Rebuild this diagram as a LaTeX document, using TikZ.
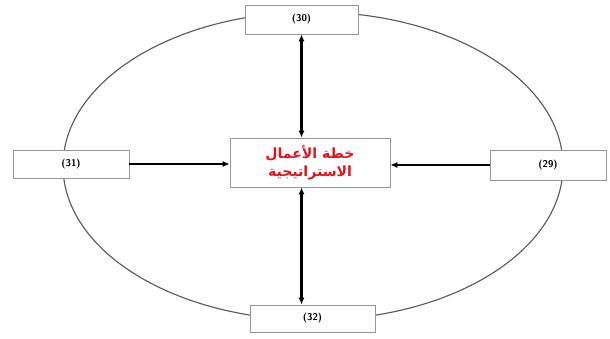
\documentclass[tikz,border=0pt]{standalone}
\usepackage{fontspec}
\usepackage{xcolor}
\usetikzlibrary{arrows.meta}
\newfontfamily\arabicfont[Script=Arabic]{DejaVu Sans}
\TeXXeTstate=1
\definecolor{framegray}{RGB}{150,150,150}
\definecolor{ringgray}{RGB}{90,90,90}
\definecolor{planred}{RGB}{225,20,30}

\begin{document}
\begin{tikzpicture}[x=0.025cm,y=-0.025cm,
  numbox/.style={draw=framegray, fill=white, line width=0.6pt, inner sep=0pt,
    font=\sffamily\bfseries\scriptsize},
  link/.style={line width=1.5pt, -{Latex[length=5pt,width=4.5pt]}},
  biglink/.style={line width=1.6pt, {Latex[length=5pt,width=4.5pt]}-{Latex[length=5pt,width=4.5pt]}}]

% Background
\useasboundingbox[fill=white] (0,0) rectangle (610,338);

% Ring
\draw[ringgray, line width=0.8pt] (313,166) ellipse [x radius=250, y radius=154];

% Boxes
\node[numbox, minimum width=113*0.025cm, minimum height=29*0.025cm] (n30) at (301.5,19.5) {(30)};
\node[numbox, minimum width=116*0.025cm, minimum height=28*0.025cm] (n31) at (71,164) {(31)};
\node[numbox, minimum width=116*0.025cm, minimum height=30*0.025cm] (n29) at (548,165) {(29)};
\node[numbox, minimum width=125*0.025cm, minimum height=27*0.025cm] (n32) at (312.5,318.5) {(32)};

% Centre
\node[numbox, minimum width=160*0.025cm, minimum height=49*0.025cm, align=center,
  font=\arabicfont\bfseries\normalsize, text=planred] (plan) at (310,162.5)
  {\beginR خطة الأعمال\endR\\[1pt]\beginR الاستراتيجية\endR};

% Arrows
\draw[link] (n31.east) -- (n31.east -| plan.west);
\draw[link] (n29.west) -- (n29.west -| plan.east);
\draw[biglink] (n30.south) -- (n30.south |- plan.north);
\draw[biglink] (n30.south |- plan.south) -- (n30.south |- n32.north);

\end{tikzpicture}
\end{document}
